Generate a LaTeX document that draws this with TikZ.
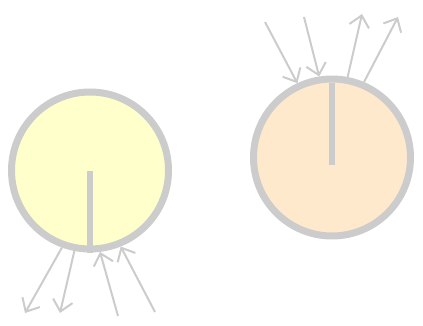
\documentclass[tikz,border=0pt]{standalone}
\usepackage{xcolor}
\usepackage{tikz}
\usetikzlibrary{arrows.meta}

\definecolor{edgegray}{HTML}{CCCCCC}
\definecolor{paleyellow}{HTML}{FFFFCC}
\definecolor{palepeach}{HTML}{FFE9CC}

\tikzset{
  dial/.style={circle, draw=edgegray, line width=7pt, minimum size=157pt, inner sep=0pt},
  hand/.style={edgegray, line width=6pt},
  flow/.style={edgegray, line width=2pt, -{Straight Barb[length=11pt, width=20pt, line width=2pt]}}
}

\begin{document}
\begin{tikzpicture}[x=1pt, y=-1pt]
    \useasboundingbox (0,0) rectangle (423,326);

    % two dials
    \node[dial, fill=paleyellow] (left) at (90,170.5) {};
    \node[dial, fill=palepeach] (right) at (332,157.5) {};

    % hands
    \draw[hand] (left.center) -- (left.south);
    \draw[hand] (right.north) ++(0,8) -- ([yshift=-8pt]right.center);

    % free ends
    \coordinate (lout1) at (25,313);
    \coordinate (lout2) at (60,313);
    \coordinate (lin1) at (118,316);
    \coordinate (lin2) at (155,312);
    \coordinate (rin1) at (265,22);
    \coordinate (rin2) at (304,17);
    \coordinate (rout1) at (362,14);
    \coordinate (rout2) at (398,17);

    % arrows at the left dial
    \draw[flow] (left.-110) -- (lout1);
    \draw[flow] (left.-101) -- (lout2);
    \draw[flow] (lin1) -- (left.-83);
    \draw[flow] (lin2) -- (left.-68);

    % arrows at the right dial
    \draw[flow] (rin1) -- (right.115);
    \draw[flow] (rin2) -- (right.99);
    \draw[flow] (right.79) -- (rout1);
    \draw[flow] (right.67) -- (rout2);
  \end{tikzpicture}
\end{document}
